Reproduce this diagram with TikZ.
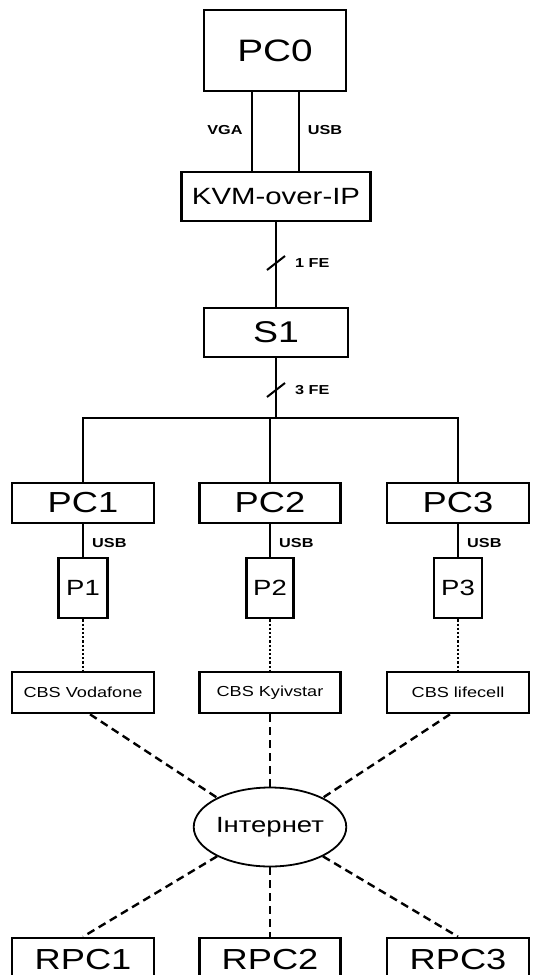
\documentclass[tikz,border=0pt]{standalone}
\usepackage{fontspec}
\setmainfont{Liberation Sans}[FakeStretch=1.25]
\usetikzlibrary{positioning,shapes.geometric}
\tikzset{
  box/.style={draw, line width=2.6pt, inner sep=0pt, align=center},
  lbl/.style={font=\fontsize{13}{13}\selectfont\bfseries, inner sep=1pt},
  wire/.style={line width=2.6pt},
  radio/.style={line width=2.2pt, dotted},
  net/.style={line width=2.4pt, dash pattern=on 8pt off 5pt},
}

\begin{document}
\begin{tikzpicture}[x=1pt,y=-1pt]
    \useasboundingbox (0,0) rectangle (536,975);
    % top: operator PC, KVM, switch
    \node[box, minimum width=142pt, minimum height=81pt, font=\fontsize{31}{31}\selectfont] (pc0) at (275,50.5) {PC0};
    \node[box, minimum width=189pt, minimum height=49pt, font=\fontsize{23.5}{24}\selectfont] (kvm) at (276,196.5) {KVM-over-IP};
    \node[box, minimum width=144pt, minimum height=49pt, font=\fontsize{30}{30}\selectfont] (s1) at (276,332.5) {S1};
    \draw[wire] ([xshift=-23pt]pc0.south) -- ([xshift=-23pt]pc0.south |- kvm.north);
    \draw[wire] ([xshift=24pt]pc0.south) -- ([xshift=24pt]pc0.south |- kvm.north);
    \node[lbl] (vga) at (225,130) {VGA};
    \node[lbl] (usb0) at (325,130) {USB};
    \draw[wire] (kvm.south) -- (s1.north);
    \coordinate (fe1) at (276,263);
    \coordinate (fe3) at (276,390);
    \draw[line width=2pt] ([shift={(-9,7)}]fe1) -- ([shift={(9,-7)}]fe1);
    \draw[line width=2pt] ([shift={(-9,7)}]fe3) -- ([shift={(9,-7)}]fe3);
    \node[lbl, right=18pt of fe1] (lfe1) {1 FE};
    \node[lbl, right=18pt of fe3] (lfe3) {3 FE};
    % PCs with phones
    \node[box, minimum width=142pt, minimum height=40pt, font=\fontsize{29}{29}\selectfont] (pc1) at (83,503) {PC1};
    \node[box, minimum width=141pt, minimum height=40pt, font=\fontsize{29}{29}\selectfont] (pc2) at (270,503) {PC2};
    \node[box, minimum width=142pt, minimum height=40pt, font=\fontsize{29}{29}\selectfont] (pc3) at (458,503) {PC3};
    \coordinate (bus) at (83,418);
    \draw[wire] (pc1.north) -- (pc1.north |- bus) -- (pc3.north |- bus) -- (pc3.north);
    \draw[wire] (pc2.north) -- (pc2.north |- bus);
    \draw[wire] (s1.south) -- (s1.south |- bus);
    \node[box, minimum width=49pt, minimum height=60pt, font=\fontsize{22}{22}\selectfont] (p1) at (83,588) {P1};
    \node[box, minimum width=47pt, minimum height=60pt, font=\fontsize{22}{22}\selectfont] (p2) at (270,588) {P2};
    \node[box, minimum width=48pt, minimum height=60pt, font=\fontsize{22}{22}\selectfont] (p3) at (458,588) {P3};
    \draw[wire] (pc1.south) -- (p1.north);
    \draw[wire] (pc2.south) -- (p2.north);
    \draw[wire] (pc3.south) -- (p3.north);
    \coordinate (u1) at (83,543);
    \coordinate (u2) at (270,543);
    \coordinate (u3) at (458,543);
    \node[lbl, right=8pt of u1] (usb1) {USB};
    \node[lbl, right=8pt of u2] (usb2) {USB};
    \node[lbl, right=8pt of u3] (usb3) {USB};
    % base stations
    \node[box, minimum width=142pt, minimum height=41pt, font=\fontsize{14.5}{15}\selectfont] (cbs1) at (83,692.5) {CBS Vodafone};
    \node[box, minimum width=141pt, minimum height=41pt, font=\fontsize{14.5}{15}\selectfont] (cbs2) at (270,692.5) {CBS Kyivstar};
    \node[box, minimum width=142pt, minimum height=41pt, font=\fontsize{14.5}{15}\selectfont] (cbs3) at (458,692.5) {CBS lifecell};
    \draw[radio] (p1.south) -- (cbs1.north);
    \draw[radio] (p2.south) -- (cbs2.north);
    \draw[radio] (p3.south) -- (cbs3.north);
    % internet and remote PCs
    \node[draw, ellipse, line width=1.8pt, inner sep=0pt, minimum width=141pt, minimum height=79pt, font=\fontsize{22}{22}\selectfont] (inet) at (270,827) {Інтернет};
    \node[box, minimum width=142pt, minimum height=44pt, font=\fontsize{29}{29}\selectfont] (rpc1) at (83,960) {RPC1};
    \node[box, minimum width=141pt, minimum height=44pt, font=\fontsize{29}{29}\selectfont] (rpc2) at (270,960) {RPC2};
    \node[box, minimum width=142pt, minimum height=44pt, font=\fontsize{29}{29}\selectfont] (rpc3) at (458,960) {RPC3};
    \draw[net] ([xshift=7pt]cbs1.south) -- (inet.151);
    \draw[net] (cbs2.south) -- (inet.north);
    \draw[net] ([xshift=-8pt]cbs3.south) -- (inet.29);
    \draw[net] (inet.209) -- (rpc1.north);
    \draw[net] (inet.south) -- (rpc2.north);
    \draw[net] (inet.331) -- (rpc3.north);
\end{tikzpicture}
\end{document}
